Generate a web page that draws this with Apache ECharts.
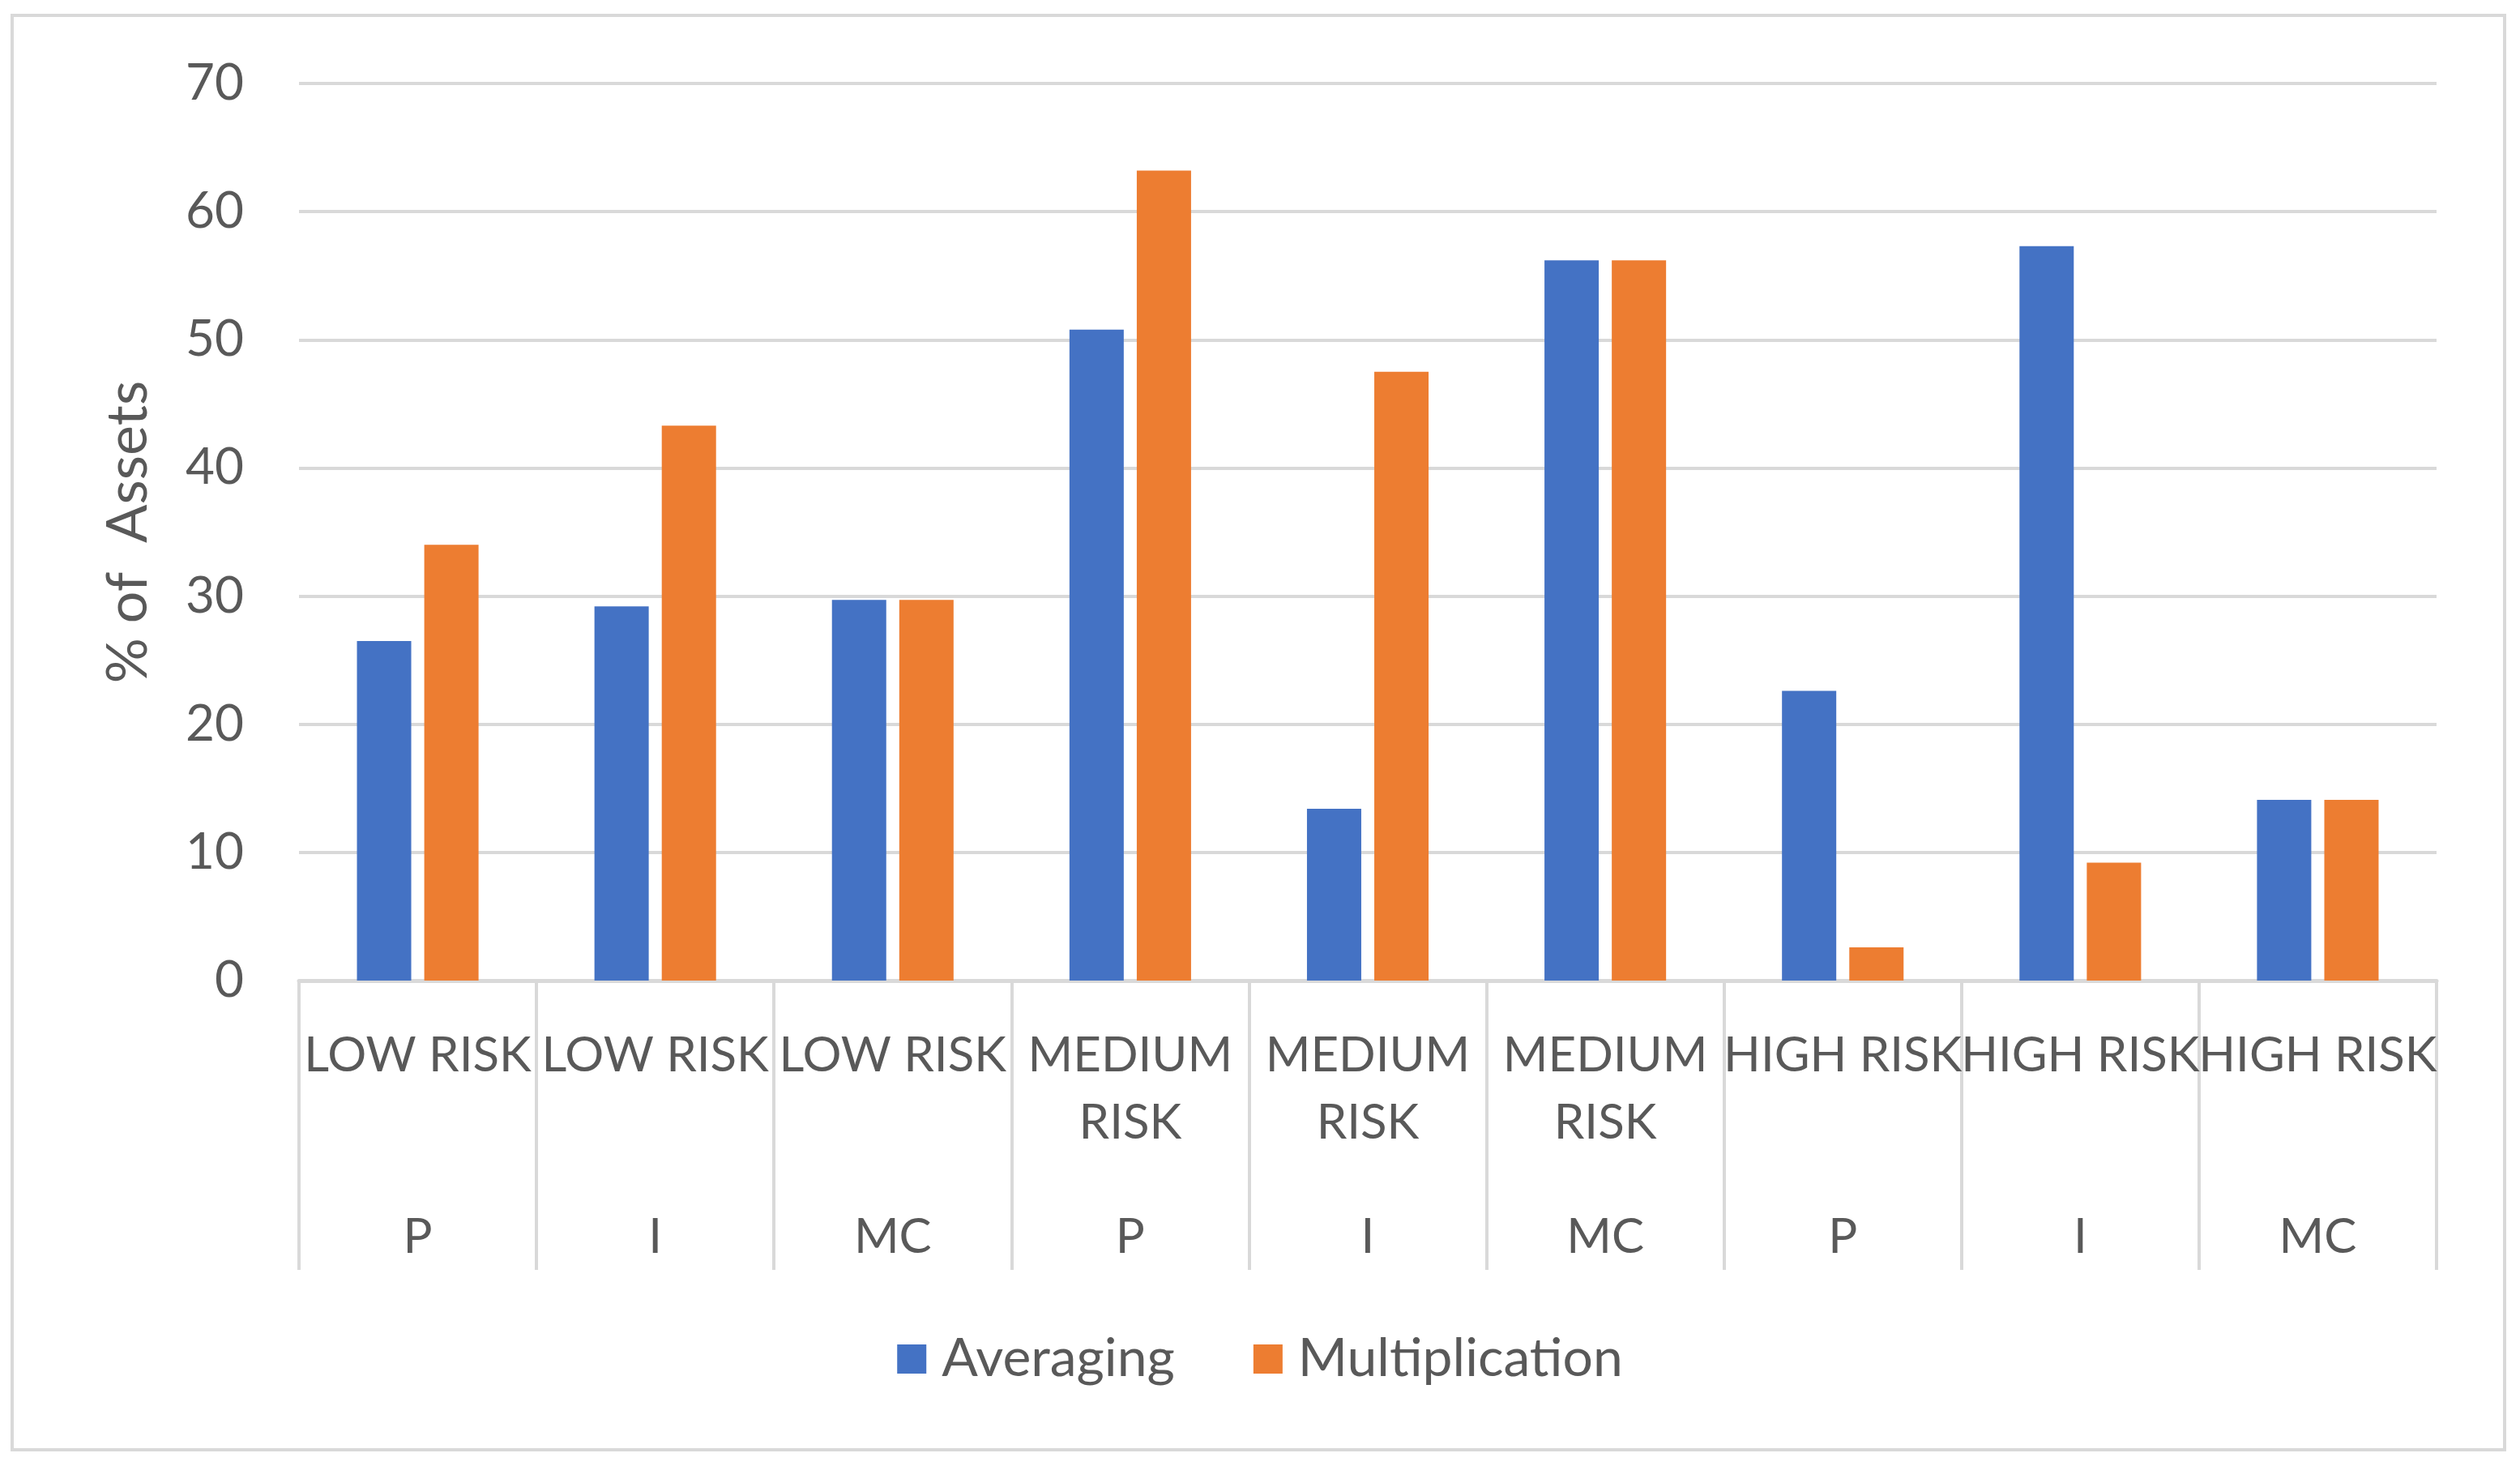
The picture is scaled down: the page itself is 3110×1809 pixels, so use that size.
<!DOCTYPE html>
<html>
<head>
<meta charset="utf-8">
<script src="https://cdn.jsdelivr.net/npm/echarts@6/dist/echarts.min.js"></script>
<style>
html,body{margin:0;padding:0;background:#fff;}
#chart{width:3110px;height:1809px;}
</style>
</head>
<body>
<div id="chart"></div>
<script>
var riskLabels = ['LOW RISK','LOW RISK','LOW RISK','MEDIUM\nRISK','MEDIUM\nRISK','MEDIUM\nRISK','HIGH RISK','HIGH RISK','HIGH RISK'];
var methodLabels = ['P','I','MC','P','I','MC','P','I','MC'];
var averaging = [26.5, 29.2, 29.7, 50.8, 13.4, 56.2, 22.6, 57.3, 14.1];
var multiplication = [34.0, 43.3, 29.7, 63.2, 47.5, 56.2, 2.6, 9.2, 14.1];
var seriesNames = ['Averaging', 'Multiplication'];
var yTicks = {min: 0, max: 70, interval: 10};

var FONT = 'Lato';
var TXT = '#595959';
var GRID = '#d9d9d9';

var chart = echarts.init(document.getElementById('chart'));
chart.setOption({
  backgroundColor: '#ffffff',
  animation: false,
  textStyle: {fontFamily: FONT, color: TXT},
  graphic: [{
    type: 'rect',
    shape: {x: 15, y: 19, width: 3076, height: 1770},
    style: {fill: 'none', stroke: GRID, lineWidth: 4},
    silent: true, z: -1
  }],
  grid: {left: 369, right: 103, top: 103, bottom: 599, containLabel: false},
  legend: {
    data: seriesNames,
    left: 'center',
    top: 1634,
    itemWidth: 36,
    itemHeight: 36,
    itemGap: 97,
    icon: 'rect',
    textStyle: {fontFamily: FONT, fontSize: 66, color: TXT, padding: [0, 0, 0, 14], lineHeight: 76}
  },
  xAxis: [{
    type: 'category',
    data: riskLabels,
    position: 'bottom',
    axisLine: {show: true, lineStyle: {color: GRID, width: 5}},
    axisTick: {show: true, interval: 0, length: 357, lineStyle: {color: GRID, width: 4}},
    axisLabel: {interval: 0, margin: 51, fontFamily: FONT, fontSize: 60, color: TXT, lineHeight: 83, hideOverlap: false},
    splitLine: {show: false}
  }, {
    type: 'category',
    data: methodLabels,
    position: 'bottom',
    gridIndex: 0,
    axisLine: {show: false},
    axisTick: {show: false},
    axisLabel: {interval: 0, margin: 275, fontFamily: FONT, fontSize: 60, color: TXT, lineHeight: 83},
    splitLine: {show: false}
  }],
  yAxis: {
    type: 'value',
    min: yTicks.min,
    max: yTicks.max,
    interval: yTicks.interval,
    name: '% of  Assets',
    nameLocation: 'middle',
    nameGap: 176,
    nameTextStyle: {fontFamily: FONT, fontSize: 70, color: TXT},
    axisLine: {show: false},
    axisTick: {show: false},
    axisLabel: {margin: 68, fontFamily: FONT, fontSize: 62, color: TXT},
    splitLine: {show: true, lineStyle: {color: GRID, width: 4}}
  },
  series: [{
    name: seriesNames[0],
    type: 'bar',
    xAxisIndex: 0,
    data: averaging,
    barWidth: 67,
    barGap: '24%',
    itemStyle: {color: '#4472C4'}
  }, {
    name: seriesNames[1],
    type: 'bar',
    xAxisIndex: 0,
    data: multiplication,
    barWidth: 67,
    barGap: '24%',
    itemStyle: {color: '#ED7D31'}
  }]
});
</script>
</body>
</html>
